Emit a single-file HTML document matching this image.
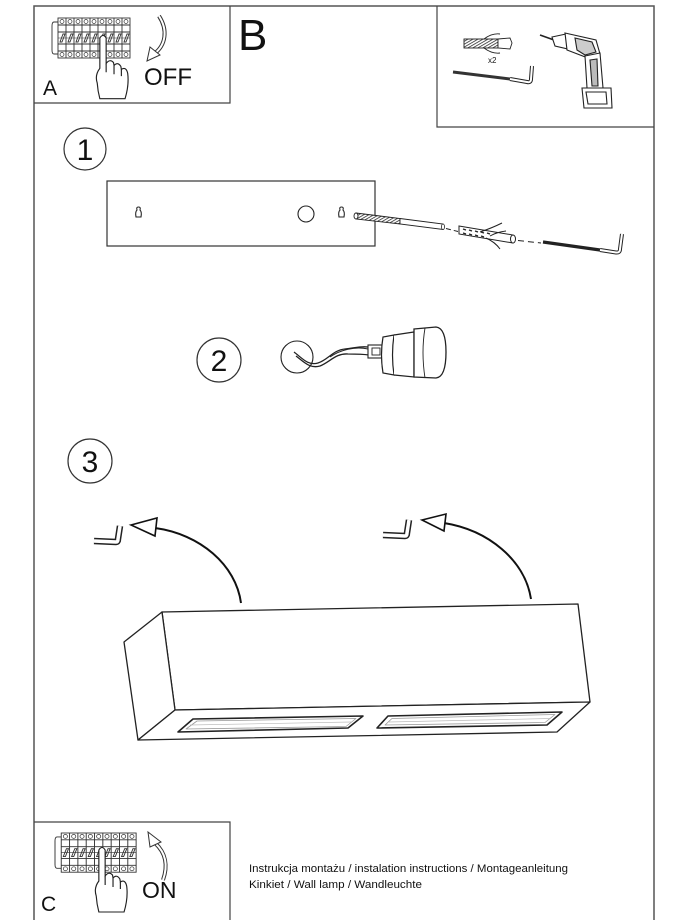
<!DOCTYPE html>
<html><head><meta charset="utf-8"><style>
html,body{margin:0;padding:0;background:#fff;}
svg{display:block;}
text{font-family:"Liberation Sans",Arial,sans-serif;fill:#111;}
</style></head><body>
<svg width="690" height="920" viewBox="0 0 690 920" xmlns="http://www.w3.org/2000/svg">
<defs>
<pattern id="th" width="2.5" height="2.5" patternUnits="userSpaceOnUse" patternTransform="rotate(60)">
<rect width="2.5" height="2.5" fill="#fff"/><line x1="0" y1="0" x2="0" y2="2.5" stroke="#222" stroke-width="1.5"/>
</pattern>
<g id="brk" fill="none" stroke="#333" stroke-width="0.9">
<path d="M6,4 L2,4 Q0,4 0,8 L0,32 Q0,36 2,36 L6,36"/>
<rect x="6" y="0" width="72" height="40" fill="#fff"/>
<line x1="6" y1="7" x2="78" y2="7"/><line x1="6" y1="14" x2="78" y2="14"/>
<line x1="6" y1="26" x2="78" y2="26"/><line x1="6" y1="33" x2="78" y2="33"/>
<path d="M14,0V40M22,0V40M30,0V40M38,0V40M46,0V40M54,0V40M62,0V40M70,0V40"/>
<g stroke-width="0.7">
<circle cx="10" cy="3.5" r="2"/><circle cx="18" cy="3.5" r="2"/><circle cx="26" cy="3.5" r="2"/><circle cx="34" cy="3.5" r="2"/><circle cx="42" cy="3.5" r="2"/><circle cx="50" cy="3.5" r="2"/><circle cx="58" cy="3.5" r="2"/><circle cx="66" cy="3.5" r="2"/><circle cx="74" cy="3.5" r="2"/>
<circle cx="10" cy="36.5" r="2"/><circle cx="18" cy="36.5" r="2"/><circle cx="26" cy="36.5" r="2"/><circle cx="34" cy="36.5" r="2"/><circle cx="42" cy="36.5" r="2"/><circle cx="50" cy="36.5" r="2"/><circle cx="58" cy="36.5" r="2"/><circle cx="66" cy="36.5" r="2"/><circle cx="74" cy="36.5" r="2"/>
</g>
<path d="M8,24 L11,16 L13,16 L10,24Z M16,24 L19,16 L21,16 L18,24Z M24,24 L27,16 L29,16 L26,24Z M32,24 L35,16 L37,16 L34,24Z M40,24 L43,16 L45,16 L42,24Z M48,24 L51,16 L53,16 L50,24Z M56,24 L59,16 L61,16 L58,24Z M64,24 L67,16 L69,16 L66,24Z M72,24 L75,16 L77,16 L74,24Z"/>
<line x1="6" y1="20" x2="78" y2="20" stroke-width="0.6"/>
</g>
<g id="hand" fill="#fff" stroke="#222" stroke-width="1.1">
<path d="M-3,2 Q0,-3 3,2 L3,28 Q6.5,23 10,27 L10.5,30 Q14,26 17,31 L17.5,34 Q22,31 23.5,38 Q25,50 21,64 L-3,64 Q-5,56 -5.5,48 Q-8,40 -3,33 Z"/>
<path d="M10.5,30 L10.5,39 M17.5,34 L17.5,41 M3,28 L3,37" fill="none"/>
</g>
</defs>

<!-- outer frame -->
<path d="M34,920 L34,6 L654,6 L654,920" fill="none" stroke="#555" stroke-width="1.5"/>

<!-- Box A -->
<path d="M34,103 L230,103 L230,6" fill="none" stroke="#444" stroke-width="1.2"/>
<use href="#brk" transform="translate(52,18)"/>
<use href="#hand" transform="translate(103,36) scale(1.05,0.98)"/>
<path d="M159,16 C168,30 166,45 154,54" fill="none" stroke="#333" stroke-width="4"/>
<path d="M159,16 C168,30 166,45 154,54" fill="none" stroke="#fff" stroke-width="2"/>
<polygon points="147,61 150,47 160,55" fill="#fff" stroke="#333" stroke-width="1"/>
<text x="43" y="95" font-size="21">A</text>
<text x="144" y="85" font-size="24">OFF</text>

<!-- B -->
<text x="238" y="50" font-size="44">B</text>

<!-- tools box -->
<path d="M437,6 L437,127 L654,127" fill="none" stroke="#444" stroke-width="1.2"/>
<rect x="464" y="39" width="34" height="9" fill="url(#th)" stroke="#222" stroke-width="0.9"/>
<path d="M498,39 L510,38 L512,43 L510,49 L498,48 Z" fill="#fff" stroke="#222" stroke-width="0.9"/>
<path d="M484,39 Q492,33 500,34 M484,48 Q492,54 500,53" fill="none" stroke="#222" stroke-width="0.9"/>
<text x="488" y="63" font-size="8">x2</text>
<path d="M453,72 L510,79" stroke="#333" stroke-width="3" fill="none"/>
<path d="M510,79 L527,82 Q531,83 531,79 L532,66" fill="none" stroke="#222" stroke-width="4"/>
<path d="M510,79 L527,82 Q531,83 531,79 L532,66" fill="none" stroke="#fff" stroke-width="2"/>
<g fill="#fff" stroke="#222" stroke-width="1.1">
<path d="M540,35 L554,40" stroke-width="1.6"/>
<polygon points="552,37 566,34 568,49 555,46"/>
<polygon points="565,33 596,40 600,54 588,58 567,50"/>
<polygon points="575,38 592,42 596,52 585,55 577,50" fill="#ccc"/>
<polygon points="585,56 600,53 603,88 587,88"/>
<polygon points="590,60 597,59 598,86 592,86" fill="#bbb"/>
<polygon points="582,88 611,88 612,108 584,108"/>
<polygon points="586,92 606,92 607,104 588,104"/>
</g>

<!-- Step 1 -->
<circle cx="85" cy="149" r="21" fill="none" stroke="#333" stroke-width="1.2"/>
<text x="85" y="160" font-size="30" text-anchor="middle">1</text>
<rect x="107" y="181" width="268" height="65" fill="none" stroke="#333" stroke-width="1.2"/>
<path d="M136,217 Q135,212 137,210 Q136,207 138.5,207 Q141,207 140,210 Q142,212 141,217 Z" fill="none" stroke="#222" stroke-width="1.1"/>
<path d="M339,217 Q338,212 340,210 Q339,207 341.5,207 Q344,207 343,210 Q345,212 344,217 Z" fill="none" stroke="#222" stroke-width="1.1"/>
<circle cx="306" cy="214" r="8" fill="none" stroke="#222" stroke-width="1.1"/>
<polygon points="356,213 400,218.5 400,224 356,219" fill="url(#th)" stroke="#222" stroke-width="0.9"/>
<ellipse cx="356" cy="216" rx="2" ry="3" fill="#fff" stroke="#222" stroke-width="0.9"/>
<polygon points="400,218.5 443,224 443,229.5 400,224" fill="#fff" stroke="#222" stroke-width="0.9"/>
<ellipse cx="443" cy="226.8" rx="1.5" ry="2.8" fill="#fff" stroke="#222" stroke-width="0.8"/>
<path d="M446,228.5 L458,231.5" stroke="#222" stroke-width="1" stroke-dasharray="5,3"/>
<polygon points="459,226 513,235 513,243 459,234" fill="#fff" stroke="#222" stroke-width="1"/>
<path d="M463,229 l3,1 M469,230 l3,1 M475,231 l3,1 M481,232 l3,1 M487,233 l3,1 M463,233 l3,1 M469,234 l3,1 M475,235 l3,1 M481,236 l3,1" stroke="#222" stroke-width="1.4"/>
<ellipse cx="513" cy="239" rx="2.5" ry="4" fill="#fff" stroke="#222" stroke-width="1"/>
<path d="M480,232 Q492,228 502,223 M486,238 Q495,242 500,249 M490,236 Q497,232 506,231" fill="none" stroke="#222" stroke-width="1"/>
<path d="M518,240.5 L541,243" stroke="#222" stroke-width="1" stroke-dasharray="6,4"/>
<path d="M543,242 L600,250" stroke="#222" stroke-width="3.2"/>
<path d="M600,250 L616,252.5 Q620,253 620,249 L622,234" fill="none" stroke="#222" stroke-width="4"/>
<path d="M600,250 L616,252.5 Q620,253 620,249 L622,234" fill="none" stroke="#fff" stroke-width="2"/>

<!-- Step 2 -->
<circle cx="219" cy="360" r="22" fill="none" stroke="#333" stroke-width="1.2"/>
<text x="219" y="371" font-size="30" text-anchor="middle">2</text>
<circle cx="297" cy="357" r="16" fill="none" stroke="#222" stroke-width="1.1"/>
<path d="M294,352 C302,358 308,366 318,363 C328,360 333,350 345,349 C355,348 360,346 368,347" fill="none" stroke="#222" stroke-width="1.3"/>
<path d="M296,356 C304,362 310,369 320,366 C330,362 336,353 348,354 C356,354 362,354 369,355" fill="none" stroke="#222" stroke-width="1.3"/>
<path d="M330,357 C340,350 355,346 368,349" fill="none" stroke="#222" stroke-width="1"/>
<rect x="368" y="345" width="17" height="13" fill="#fff" stroke="#222" stroke-width="1.1"/>
<rect x="372" y="348" width="8" height="7" fill="none" stroke="#222" stroke-width="0.9"/>
<path d="M383,337 Q380,355 383,373 L394,375 Q391,355 394,335 Z" fill="#fff" stroke="#222" stroke-width="1.2"/>
<path d="M394,335 L414,332 L414,377 L394,375" fill="#fff" stroke="#222" stroke-width="1.2"/>
<path d="M414,329 L436,327 Q446,328 446,352 Q446,377 436,378 L414,377 Z" fill="#fff" stroke="#222" stroke-width="1.3"/>
<path d="M425,328 Q421,352 425,378" fill="none" stroke="#222" stroke-width="0.9"/>

<!-- Step 3 -->
<circle cx="90" cy="461" r="22" fill="none" stroke="#333" stroke-width="1.2"/>
<text x="90" y="472" font-size="30" text-anchor="middle">3</text>
<path d="M94,541 L116,542 Q118,542 118,539 L120,526" fill="none" stroke="#222" stroke-width="6.5"/>
<path d="M94,541 L116,542 Q118,542 118,539 L120,526" fill="none" stroke="#fff" stroke-width="3.5"/>
<path d="M383,535 L405,536 Q407,536 407,533 L409,520" fill="none" stroke="#222" stroke-width="6.5"/>
<path d="M383,535 L405,536 Q407,536 407,533 L409,520" fill="none" stroke="#fff" stroke-width="3.5"/>
<path d="M155,528 C200,534 236,565 241,603" fill="none" stroke="#111" stroke-width="2"/>
<path d="M444,523 C488,530 525,560 531,599" fill="none" stroke="#111" stroke-width="2"/>
<polygon points="131,525 157,518 155,536" fill="#fff" stroke="#111" stroke-width="1.6"/>
<polygon points="422,520 446,514 444,531" fill="#fff" stroke="#111" stroke-width="1.6"/>

<!-- lamp -->
<g fill="#fff" stroke="#222" stroke-width="1.3" stroke-linejoin="round">
<polygon points="162,612 578,604 590,702 175,710"/>
<polygon points="124,642 162,612 175,710 138,740"/>
<polygon points="138,740 175,710 590,702 557,732"/>
<polygon points="178,732 193,719 363,716 348,728" stroke-width="1.6"/>
<polygon points="186,729 197,721 356,718.5 346,726.5" stroke="#999" stroke-width="0.8"/>
<line x1="190" y1="725" x2="351" y2="722" stroke="#bbb" stroke-width="0.7"/>
<polygon points="377,728 388,716 562,712 547,725" stroke-width="1.6"/>
<polygon points="385,725 392,718.5 555,714.5 545,722.5" stroke="#999" stroke-width="0.8"/>
<line x1="389" y1="722" x2="550" y2="718.5" stroke="#bbb" stroke-width="0.7"/>
</g>

<!-- Box C -->
<path d="M34,822 L230,822 L230,920" fill="none" stroke="#444" stroke-width="1.2"/>
<use href="#brk" transform="translate(55,833) scale(1.04,0.98)"/>
<use href="#hand" transform="translate(102,848) scale(1.05,1)"/>
<path d="M163,880 C168,866 166,853 155,843" fill="none" stroke="#333" stroke-width="4"/>
<path d="M163,880 C168,866 166,853 155,843" fill="none" stroke="#fff" stroke-width="2"/>
<polygon points="148,832 161,842 150,847" fill="#fff" stroke="#333" stroke-width="1"/>
<text x="41" y="911" font-size="21">C</text>
<text x="142" y="898" font-size="23">ON</text>

<text x="249" y="872" font-size="11" textLength="319" lengthAdjust="spacingAndGlyphs">Instrukcja montażu / instalation instructions / Montageanleitung</text>
<text x="249" y="888" font-size="11" textLength="173" lengthAdjust="spacingAndGlyphs">Kinkiet / Wall lamp / Wandleuchte</text>
</svg>
</body></html>
